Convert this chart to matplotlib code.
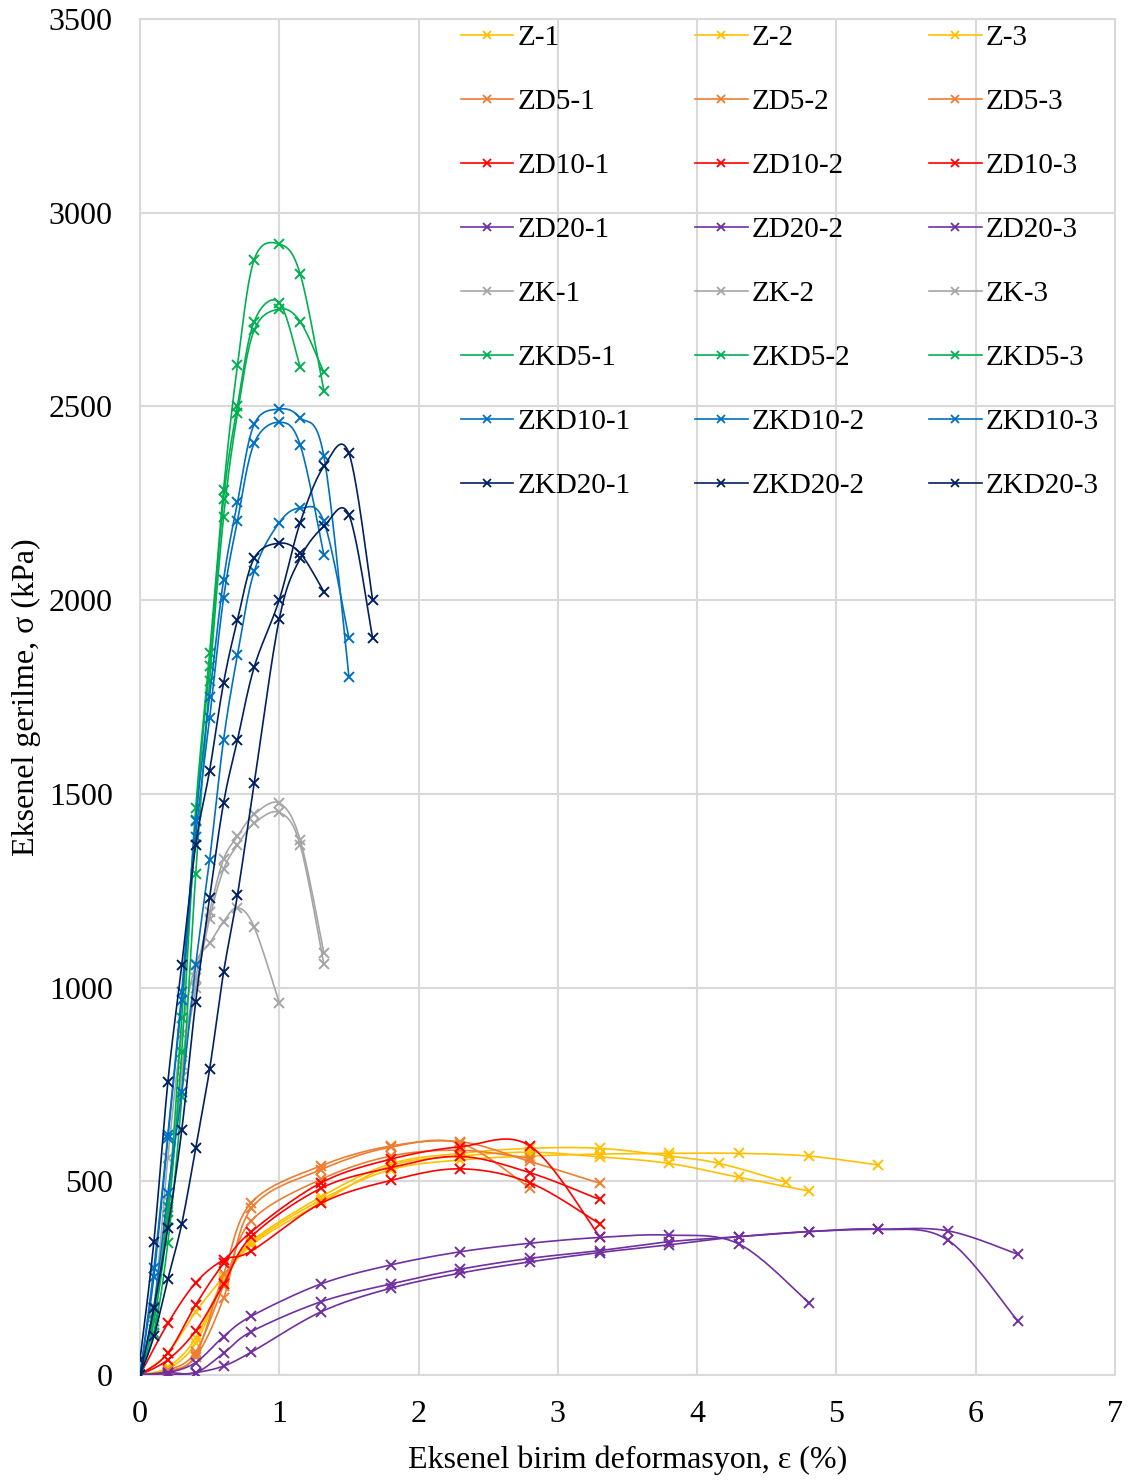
import numpy as np
import matplotlib
matplotlib.use("Agg")
import matplotlib.pyplot as plt
from matplotlib.lines import Line2D

plt.rcParams['font.family'] = ['Liberation Serif', 'DejaVu Serif']

# Strain readings (%)
strain_fast = [0, 0.1, 0.2, 0.3, 0.4, 0.5, 0.6, 0.7, 0.82, 1.0, 1.15, 1.32, 1.5, 1.67]
strain_slow = [0, 0.2, 0.4, 0.6, 0.8, 1.3, 1.8, 2.3, 2.8, 3.3, 3.8, 4.3, 4.8, 5.3, 5.8, 6.3]
strain_z1 = [0, 0.2, 0.4, 0.6, 0.8, 1.3, 1.8, 2.3, 2.8, 3.3, 3.8, 4.16, 4.64]

# Axial stress (kPa)
z_1 = [0, 56, 163, 254, 345, 460, 545, 572, 585, 585, 565, 546, 497]
z_2 = [0, 20, 95, 246, 340, 452, 530, 555, 565, 570, 572, 572, 565, 542]
z_3 = [0, 15, 82, 240, 335, 445, 540, 565, 575, 563, 546, 510, 475]
zd5_1 = [0, 10, 52, 260, 445, 540, 591, 602, 551, 495]
zd5_2 = [0, 8, 47, 198, 430, 530, 588, 598, 482]
zd5_3 = [0, 12, 60, 230, 398, 505, 565, 580, 559]
zd10_1 = [0, 56, 181, 288, 370, 496, 557, 589, 591, 357]
zd10_2 = [0, 39, 114, 234, 357, 482, 535, 564, 522, 453]
zd10_3 = [0, 133, 238, 297, 320, 443, 502, 532, 496, 390]
zd20_1 = [0, 6, 32, 99, 152, 235, 284, 318, 340, 355, 361, 338, 187]
zd20_2 = [0, 6, 6, 56, 112, 189, 235, 273, 301, 321, 344, 357, 370, 376, 372, 312]
zd20_3 = [0, 0, 6, 23, 59, 163, 224, 263, 292, 316, 336, 357, 370, 376, 348, 140]
zk_1 = [0, 150, 450, 800, 1024, 1195, 1331, 1390, 1447, 1476, 1381, 1090]
zk_2 = [0, 130, 420, 770, 998, 1178, 1305, 1368, 1424, 1452, 1368, 1060]
zk_3 = [0, 170, 560, 880, 1060, 1114, 1170, 1206, 1156, 961]
zkd5_1 = [0, 160, 434, 921, 1463, 1863, 2285, 2606, 2879, 2919, 2842, 2541]
zkd5_2 = [0, 140, 400, 834, 1433, 1831, 2261, 2502, 2719, 2768, 2601]
zkd5_3 = [0, 108, 340, 718, 1292, 1790, 2214, 2482, 2697, 2751, 2719, 2588]
zkd10_1 = [0, 275, 619, 989, 1429, 1751, 2052, 2252, 2454, 2493, 2471, 2372, 1802]
zkd10_2 = [0, 254, 611, 968, 1389, 1695, 2005, 2205, 2405, 2459, 2401, 2117]
zkd10_3 = [0, 176, 469, 731, 1058, 1329, 1639, 1858, 2074, 2200, 2237, 2203, 1902]
zkd20_1 = [39, 344, 755, 1058, 1368, 1560, 1786, 1949, 2108, 2147, 2121, 2022]
zkd20_2 = [0, 173, 379, 632, 963, 1232, 1476, 1639, 1827, 2001, 2200, 2345, 2379, 2001]
zkd20_3 = [0, 100, 247, 390, 585, 789, 1039, 1239, 1527, 1951, 2108, 2190, 2220, 1902]

groups = [
    ("Z", "#FFC000", [(strain_z1, z_1), (strain_slow, z_2), (strain_slow, z_3)]),
    ("ZD5", "#ED7D31", [(strain_slow, zd5_1), (strain_slow, zd5_2), (strain_slow, zd5_3)]),
    ("ZD10", "#FF0000", [(strain_slow, zd10_1), (strain_slow, zd10_2), (strain_slow, zd10_3)]),
    ("ZD20", "#7030A0", [(strain_slow, zd20_1), (strain_slow, zd20_2), (strain_slow, zd20_3)]),
    ("ZK", "#A5A5A5", [(strain_fast, zk_1), (strain_fast, zk_2), (strain_fast, zk_3)]),
    ("ZKD5", "#00B050", [(strain_fast, zkd5_1), (strain_fast, zkd5_2), (strain_fast, zkd5_3)]),
    ("ZKD10", "#0070C0", [(strain_fast, zkd10_1), (strain_fast, zkd10_2), (strain_fast, zkd10_3)]),
    ("ZKD20", "#002060", [(strain_fast, zkd20_1), (strain_fast, zkd20_2), (strain_fast, zkd20_3)]),
]


def smooth(xs, ys, n=24):
    """Catmull-Rom curve through the points (Bezier handles at 1/6 of neighbour chord)."""
    x = np.asarray(xs, float)
    y = np.asarray(ys, float)
    px = np.concatenate([[x[0]], x, [x[-1]]])
    py = np.concatenate([[y[0]], y, [y[-1]]])
    out_x, out_y = [x[0]], [y[0]]
    t = np.linspace(0, 1, n + 1)[1:]
    for i in range(1, len(px) - 2):
        p0x, p1x, p2x, p3x = px[i - 1], px[i], px[i + 1], px[i + 2]
        p0y, p1y, p2y, p3y = py[i - 1], py[i], py[i + 1], py[i + 2]
        c1x, c1y = p1x + (p2x - p0x) / 6, p1y + (p2y - p0y) / 6
        c2x, c2y = p2x - (p3x - p1x) / 6, p2y - (p3y - p1y) / 6
        b0 = (1 - t) ** 3
        b1 = 3 * (1 - t) ** 2 * t
        b2 = 3 * (1 - t) * t ** 2
        b3 = t ** 3
        out_x.extend(b0 * p1x + b1 * c1x + b2 * c2x + b3 * p2x)
        out_y.extend(b0 * p1y + b1 * c1y + b2 * c2y + b3 * p2y)
    return np.array(out_x), np.array(out_y)


fig = plt.figure(figsize=(11.37, 14.81), dpi=100)
ax = fig.add_axes([0.1231, 0.0716, 0.8576, 0.9156])

grid_c = "#D9D9D9"
handles = {}
for name, color, runs in groups:
    for k, (xs, ys) in enumerate(runs, start=1):
        xv = xs[:len(ys)]
        sx, sy = smooth(xv, ys)
        ax.plot(sx, sy, color=color, lw=1.2, zorder=3, solid_capstyle='round')
        ax.plot(xv, ys, ls='none', marker='x', ms=6.5, mew=1.4, color=color, zorder=3)
        handles[(name, k)] = Line2D([], [], color=color, lw=1.2, marker='x', ms=5.5, mew=1.3,
                                    label=f"{name}-{k}")

ax.set_xlim(0, 7)
ax.set_ylim(0, 3500)
ax.set_xticks(range(0, 8))
ax.set_yticks(range(0, 3501, 500))
ax.grid(True, color=grid_c, lw=1.5, zorder=0)
ax.set_axisbelow(True)
for s in ax.spines.values():
    s.set_color(grid_c)
    s.set_linewidth(1.5)
ax.tick_params(axis='y', length=0, labelsize=23, pad=19.5)
ax.tick_params(axis='x', length=0, labelsize=23, pad=18)

ax.set_xlabel("Eksenel birim deformasyon, ε (%)", fontsize=23, labelpad=12)
ax.set_ylabel("Eksenel gerilme, σ (kPa)", fontsize=23, labelpad=6)

# legend columns hold replicate 1, 2, 3 so rows read by group
order = [handles[(name, k)] for k in (1, 2, 3) for name, _, _ in groups]
ax.legend(handles=order, ncol=3, loc='upper left', bbox_to_anchor=(0.323, 1.0),
          frameon=False, fontsize=21, handlelength=1.8, handletextpad=0.15,
          labelspacing=1.29, columnspacing=2.2, borderpad=0.2, borderaxespad=0)

fig.savefig("out.png", dpi=100)
